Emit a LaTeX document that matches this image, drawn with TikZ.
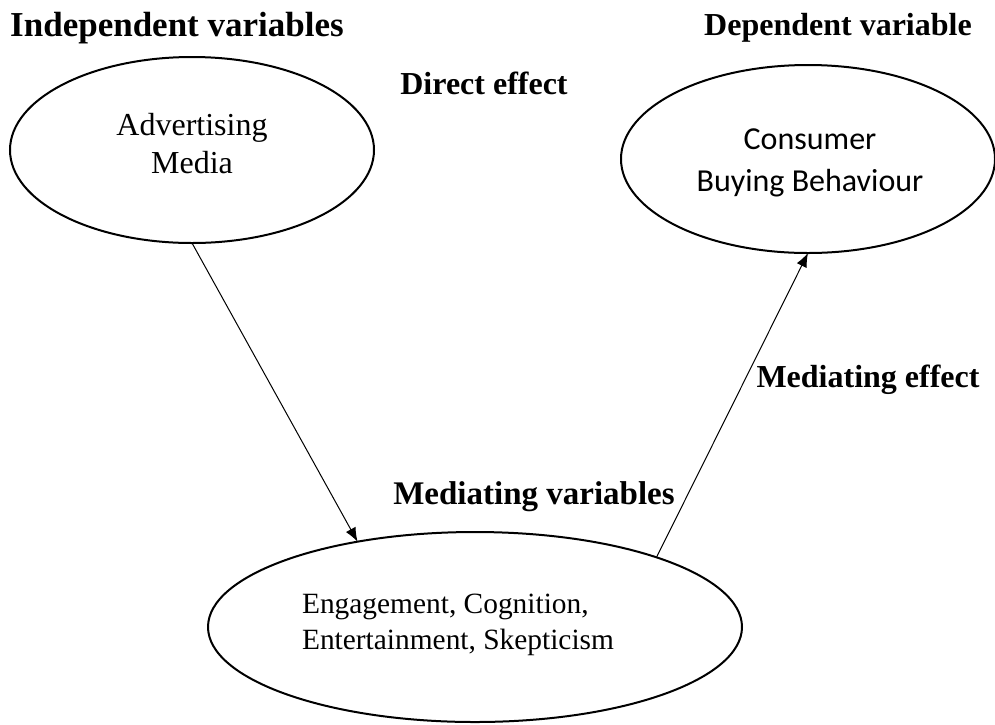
\documentclass[tikz,border=0pt]{standalone}
\usepackage{fontspec}
\setmainfont{Liberation Serif}[BoldFont={Liberation Serif Bold}]
\newfontfamily\calibri{Carlito}
\usetikzlibrary{shapes.geometric,arrows.meta}

\begin{document}
\begin{tikzpicture}[x=0.5pt,y=-0.5pt]
        \useasboundingbox (0,0) rectangle (995,724);
        \clip (0,0) rectangle (995,724);

        \begin{scope}[every node/.style={ellipse,draw,line width=1pt,inner sep=0pt,outer sep=0pt}]
          \node[minimum width=182pt,minimum height=93pt] (adv) at (192,150) {};
          \node[minimum width=187pt,minimum height=94pt] (cbb) at (808,159) {};
          \node[minimum width=267pt,minimum height=95pt] (med) at (475,627) {};
        \end{scope}

        % texts inside the ovals
        \begin{scope}[every node/.style={font=\fontsize{16}{19}\selectfont,align=center}]
          \node (advtext) at (192,144) {Advertising\\Media};
          \node[font=\calibri\fontsize{16}{21}\selectfont] (cbbtext) at (810,163) {Consumer\\Buying Behaviour};
          \node[align=left,font=\fontsize{14.7}{18}\selectfont] (medtext) at (458,625) {Engagement, Cognition,\\Entertainment, Skepticism};
        \end{scope}

        \begin{scope}[every node/.style={font=\bfseries\fontsize{16}{19}\selectfont}]
          \node[font=\bfseries\fontsize{17.5}{20}\selectfont] (indep) at (177,28) {Independent variables};
          \node (dep)    at (838,28)  {Dependent variable};
          \node (direct) at (484,83)  {Direct effect};
          \node (medeff) at (868,380) {Mediating effect};
          \node[font=\bfseries\fontsize{16.5}{20}\selectfont] (medvar) at (534,497) {Mediating variables};
        \end{scope}

        \begin{scope}[every edge/.style={draw,line width=0.5pt,-{Latex[length=7pt,width=5.5pt]}}]
          \path (adv.south) edge (med.144);
          \path (med.21)    edge (cbb.south);
        \end{scope}

      \end{tikzpicture}
\end{document}
